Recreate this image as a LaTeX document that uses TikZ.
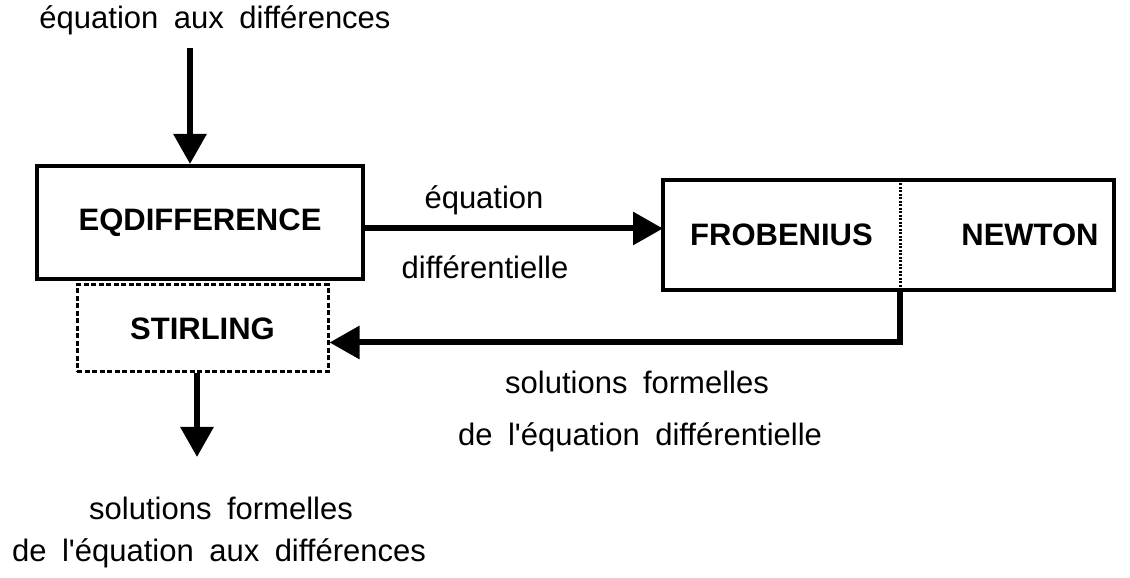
\documentclass[tikz,border=0pt]{standalone}
\usepackage{fontspec}
\setmainfont{Liberation Sans}[WordSpace=1.8]
\usetikzlibrary{arrows.meta}
\tikzset{
  boite/.style={draw, line width=4pt, inner sep=0pt, font=\fontsize{31}{37}\selectfont\bfseries},
  texte/.style={inner sep=0pt, font=\fontsize{31}{37}\selectfont},
  fleche/.style={line width=6pt, line join=miter, -{Triangle[length=30pt,width=32pt]}},
}
\begin{document}
\begin{tikzpicture}[x=1pt, y=1pt]
			\useasboundingbox (0,0) rectangle (1130,578);
			%Boites des programmes
			\node[boite, minimum width=326pt, minimum height=113pt] (EQ) at (200,355.5) {EQDIFFERENCE};
			\node[boite, line width=3pt, dash pattern=on 5pt off 2.5pt, minimum width=251pt, minimum height=87pt] (STIR) at (202.5,249.5) {STIRLING};
			\node[boite, draw=none, minimum width=233pt, minimum height=106pt] (FROB) at (781.5,343) {FROBENIUS\hspace{28pt}};
			\node[boite, draw=none, minimum width=214pt, minimum height=106pt] (NEWT) at (1005,343) {\hspace{50pt}NEWTON};
			\draw[line width=4pt] (FROB.north west) rectangle (NEWT.south east);
			\draw[line width=3pt, dash pattern=on 2pt off 1.5pt] (FROB.north east) -- (FROB.south east);
			%Textes
			\node[texte] (entree) at (215,558) {équation aux différences};
			\node[texte] (eq1) at (484,378) {équation};
			\node[texte] (eq2) at (485,311) {différentielle};
			\node[texte] (sol1) at (637,196) {solutions formelles};
			\node[texte] (sol2) at (640,141) {de l\textquotesingle équation différentielle};
			\node[texte] (res1) at (221,70) {solutions formelles};
			\node[texte] (res2) at (219,25) {de l\textquotesingle équation aux différences};
			%Fleches
			\coordinate (haut) at (190,530);
			\coordinate (bas) at (197,121);
			\draw[fleche] (haut) -- (haut |- EQ.north);
			\draw[fleche] ([yshift=-6pt]EQ.east) -- ([yshift=-6pt]EQ.east -| FROB.west);
			\draw[fleche] (FROB.south east) |- ([yshift=-14pt]STIR.east);
			\draw[fleche] (STIR.south -| bas) -- (bas);
		\end{tikzpicture}
\end{document}
